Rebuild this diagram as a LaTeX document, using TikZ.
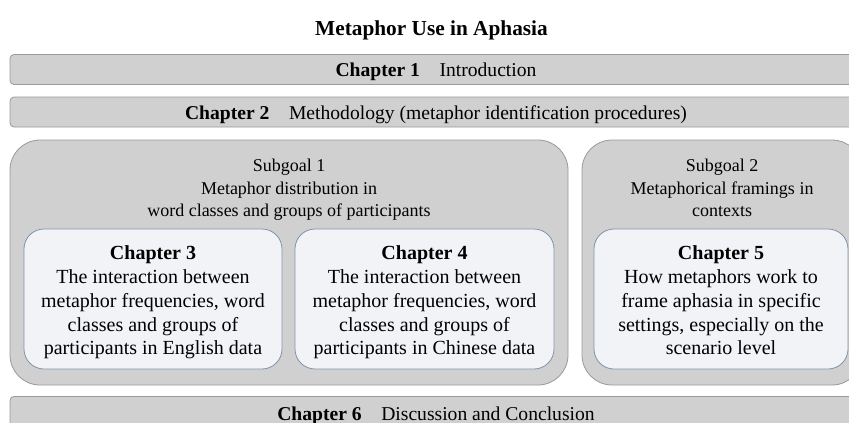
\documentclass[tikz,border=0pt]{standalone}
\usepackage{fontspec}
\setmainfont{Liberation Serif}
\usetikzlibrary{positioning}

\definecolor{bargray}{HTML}{D0D0D0}
\definecolor{edgegray}{HTML}{9A9A9A}
\definecolor{chapfill}{HTML}{F1F3F6}
\definecolor{chapedge}{HTML}{8094A8}

\tikzset{
  barbox/.style={draw=edgegray, fill=bargray, rounded corners=4pt, line width=0.8pt,
    minimum width=852pt, minimum height=30pt, inner sep=0pt,
    text height=16pt, text depth=2pt,
    font=\fontsize{19.6}{22}\selectfont},
  goalbox/.style={draw=edgegray, fill=bargray, rounded corners=30pt, line width=0.8pt},
  goaltext/.style={align=center, inner sep=0pt, anchor=north,
    font=\fontsize{18}{22.5}\selectfont},
  chapbox/.style={draw=chapedge, fill=chapfill, rounded corners=20pt, line width=0.8pt},
  chaptext/.style={align=center, inner sep=0pt,
    font=\fontsize{20}{23.8}\selectfont,
    execute at begin node=\strut, execute at end node=\strut}
}

\begin{document}
\begin{tikzpicture}[x=1pt, y=-1pt]

\clip (0,0) rectangle (849,423);
\fill [white] (0,0) rectangle (849,423);

\node [font=\bfseries\fontsize{21.3}{24}\selectfont] (title) at (431.5,30) {Metaphor Use in Aphasia};

% chapter bars
\node [barbox] (ch1) at (436,69.5) {\textbf{Chapter 1}\quad Introduction};
\node [barbox] (ch2) at (436,112) {\textbf{Chapter 2}\quad Methodology (metaphor identification procedures)};
\node [barbox, minimum height=34pt, anchor=north] (ch6) at (436,396) {\textbf{Chapter 6}\quad Discussion and Conclusion};

% subgoals
\draw [goalbox] (10,140) rectangle (568,385);
\draw [goalbox] (582,140) rectangle (862,385);
\node [goaltext] (sg1) at (289,159) {Subgoal 1\\Metaphor distribution in\\word classes and groups of participants};
\node [goaltext] (sg2) at (722,159) {Subgoal 2\\Metaphorical framings in\\contexts};

% chapters inside the subgoals
\draw [chapbox] (24,229) rectangle (282,369);
\draw [chapbox] (295,229) rectangle (554,369);
\draw [chapbox] (594,229) rectangle (848,369);
\node [chaptext] (ch3) at (153,304) {\textbf{Chapter 3}\\The interaction between\\metaphor frequencies, word\\classes and groups of\\participants in English data};
\node [chaptext] (ch4) at (424.5,304) {\textbf{Chapter 4}\\The interaction between\\metaphor frequencies, word\\classes and groups of\\participants in Chinese data};
\node [chaptext] (ch5) at (721,304) {\textbf{Chapter 5}\\How metaphors work to\\frame aphasia in specific\\settings, especially on the\\scenario level};

\end{tikzpicture}
\end{document}
